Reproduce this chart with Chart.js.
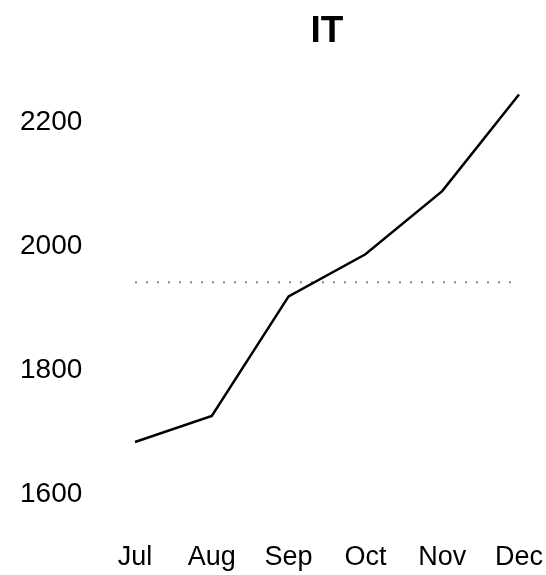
<!DOCTYPE html>
<html>
<head>
<meta charset="utf-8">
<script src="https://cdn.jsdelivr.net/npm/chart.js@4"></script>
<style>
  body { margin: 0; background: #fff; }
</style>
</head>
<body>
<canvas id="itChart" width="546" height="575"></canvas>
<script>
// monthly IT figures
const months = ["Jul", "Aug", "Sep", "Oct", "Nov", "Dec"];
const itValues = [1684, 1726, 1919, 1987, 2089, 2245];
const averageValue = 1942;
const yTicks = [1600, 1800, 2000, 2200];

const itChart = new Chart("itChart", {
  type: "line",
  data: {
    labels: months,
    datasets: [{
        label: "IT",
        data: itValues,
        borderColor: "#000",
        borderWidth: 2.5,
        lineTension: 0,
        pointRadius: 0
      },
      {
        label: "Average",
        data: months.map(() => averageValue),
        borderColor: "#9a9a9a",
        borderWidth: 2.5,
        borderDash: [2, 9],
        pointRadius: 0
      }
    ]
  },
  options: {
    responsive: false,
    animation: false,
    layout: { padding: { left: 20, right: 27, top: 0, bottom: 2 } },
    plugins: {
      legend: { display: false },
      tooltip: { enabled: false },
      title: {
        display: true,
        text: "IT",
        fullSize: false,
        color: "#000",
        font: { family: "Liberation Sans, Arial", size: 37, weight: "bold" },
        padding: { top: 10, bottom: 37 }
      }
    },
    scales: {
      x: {
        offset: false,
        grid: { display: false, drawTicks: false },
        border: { display: false },
        ticks: {
          color: "#000",
          padding: 0,
          maxRotation: 0,
          // tall line box pushes the month names down below the plot
          font: { family: "Liberation Sans, Arial", size: 27, lineHeight: 2.4 }
        },
        afterFit: function(scale) { scale.height = 48; }
      },
      y: {
        min: 1550,
        max: 2250,
        grid: { display: false, drawTicks: false },
        border: { display: false },
        ticks: {
          color: "#000",
          padding: 4,
          crossAlign: "far",
          font: { family: "Liberation Sans, Arial", size: 28 },
          callback: function(value) { return String(value); }
        },
        afterBuildTicks: function(scale) {
          scale.ticks = yTicks.map(v => ({ value: v }));
        },
        afterFit: function(scale) { scale.width = 115; }
      }
    }
  }
});
</script>
</body>
</html>
